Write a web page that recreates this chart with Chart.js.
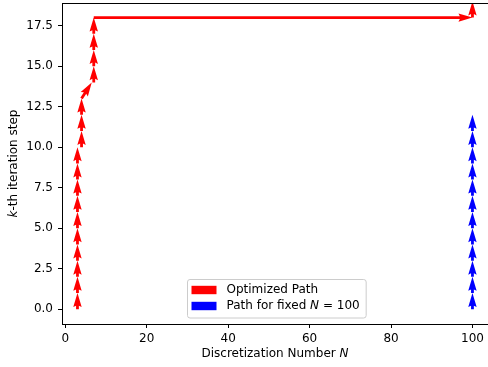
<!DOCTYPE html>
<html>
<head>
<meta charset="utf-8">
<script src="https://cdn.jsdelivr.net/npm/chart.js@4/dist/chart.umd.min.js"></script>
<style>
  html, body { margin: 0; padding: 0; background: #fff; overflow: hidden; }
  #quadro { width: 488px; height: 367px; overflow: hidden; }
</style>
</head>
<body>
<div id="quadro"><canvas id="grafico" width="492" height="367"></canvas></div>
<script>
// caminho otimizado: origem de cada seta (N, k) e o deslocamento (dN, dk)
const caminhoN  = [3, 3, 3, 3, 3, 3, 3, 3, 3, 3, 4, 4, 4, 4, 7, 7, 7, 7, 7, 100];
const caminhoK  = [0, 1, 2, 3, 4, 5, 6, 7, 8, 9, 10, 11, 12, 13, 14, 15, 16, 17, 18, 18];
const caminhoDN = [0, 0, 0, 0, 0, 0, 0, 0, 0, 0, 0, 0, 0, 2.5, 0, 0, 0, 0, 93, 0];
const caminhoDK = [1, 1, 1, 1, 1, 1, 1, 1, 1, 1, 1, 1, 1, 1, 1, 1, 1, 1, 0, 1];

// caminho com N fixo em 100
const fixoN  = [100, 100, 100, 100, 100, 100, 100, 100, 100, 100, 100, 100];
const fixoK  = [0, 1, 2, 3, 4, 5, 6, 7, 8, 9, 10, 11];
const fixoDN = [0, 0, 0, 0, 0, 0, 0, 0, 0, 0, 0, 0];
const fixoDK = [1, 1, 1, 1, 1, 1, 1, 1, 1, 1, 1, 1];

const ticksN = [0, 20, 40, 60, 80, 100];
const ticksK = [0, 2.5, 5, 7.5, 10, 12.5, 15, 17.5];

// rótulos da legenda (partes em itálico marcadas com true)
const legendaCaminho = [["Optimized Path", false]];
const legendaFixo = [["Path for fixed ", false], ["N", true], [" = 100", false]];

const FONTE = '"DejaVu Sans", sans-serif';

function setas(ns, ks, dns, dks) {
    return ns.map((n, i) => ({ x: n, y: ks[i], u: dns[i], v: dks[i] }));
}

function larguraMisto(ctx, partes) {
    let total = 0;
    partes.forEach(([t, it]) => {
        ctx.font = (it ? "italic " : "") + "12px " + FONTE;
        total += ctx.measureText(t).width;
    });
    return total;
}

// escreve um texto com trechos normais e itálicos
function textoMisto(ctx, partes, cx, cy, alinhar) {
    const total = larguraMisto(ctx, partes);
    let x = alinhar === "left" ? cx : cx - total / 2;
    ctx.textBaseline = "middle";
    ctx.textAlign = "left";
    partes.forEach(([t, it]) => {
        ctx.font = (it ? "italic " : "") + "12px " + FONTE;
        ctx.fillText(t, x, cy);
        x += ctx.measureText(t).width;
    });
}

// seta no estilo quiver: haste fina e cabeça com entalhe
function desenhaSeta(ctx, x0, y0, x1, y1) {
    const w = 2.8, hw = 1.5 * w, hl = 5 * w, hal = 4.5 * w;
    const L = Math.hypot(x1 - x0, y1 - y0);
    const s = L < hl ? L / hl : 1;
    ctx.save();
    ctx.translate(x0, y0);
    ctx.rotate(Math.atan2(y1 - y0, x1 - x0));
    ctx.beginPath();
    ctx.moveTo(0, -w / 2 * s);
    ctx.lineTo(L - hal * s, -w / 2 * s);
    ctx.lineTo(L - hl * s, -hw * s);
    ctx.lineTo(L, 0);
    ctx.lineTo(L - hl * s, hw * s);
    ctx.lineTo(L - hal * s, w / 2 * s);
    ctx.lineTo(0, w / 2 * s);
    ctx.closePath();
    ctx.fill();
    ctx.restore();
}

const pluginSetas = {
    id: "setas",
    afterDatasetsDraw(chart) {
        const ctx = chart.ctx, area = chart.chartArea;
        const sx = chart.scales.x, sy = chart.scales.y;
        ctx.save();
        ctx.beginPath();
        ctx.rect(area.left, area.top, area.right - area.left, area.bottom - area.top);
        ctx.clip();
        chart.data.datasets.forEach(ds => {
            ctx.fillStyle = ds.backgroundColor;
            ds.data.forEach(p => {
                desenhaSeta(ctx,
                    sx.getPixelForValue(p.x), sy.getPixelForValue(p.y),
                    sx.getPixelForValue(p.x + p.u), sy.getPixelForValue(p.y + p.v));
            });
        });
        ctx.restore();
        ctx.beginPath();
    },
    afterDraw(chart) {
        const ctx = chart.ctx, area = chart.chartArea;
        ctx.save();
        // borda de cima
        ctx.strokeStyle = "#000";
        ctx.lineWidth = 1;
        ctx.beginPath();
        ctx.moveTo(area.left, area.top + 0.5);
        ctx.lineTo(area.right, area.top + 0.5);
        ctx.stroke();

        // títulos dos eixos (centrados na área visível)
        ctx.fillStyle = "#000";
        textoMisto(ctx, [["Discretization Number ", false], ["N", true]],
            (area.left + 488) / 2, area.bottom + 30);
        ctx.save();
        ctx.translate(14, (area.top + area.bottom) / 2);
        ctx.rotate(-Math.PI / 2);
        textoMisto(ctx, [["k", true], ["-th iteration step", false]], 0, 0);
        ctx.restore();

        // legenda
        const itens = chart.data.datasets.map(ds => [ds.backgroundColor, ds.legenda]);
        const textoMax = Math.max(...itens.map(it => larguraMisto(ctx, it[1])));
        const larg = 4.5 + 25 + 10 + textoMax + 6;
        const alt = 38.5;
        const lx = Math.round((area.left + 488) / 2 - larg / 2) + 1;
        const ly = Math.round(area.bottom - 6.5 - alt);
        ctx.beginPath();
        ctx.roundRect(lx + 0.5, ly + 0.5, larg, alt, 2.5);
        ctx.fillStyle = "rgba(255,255,255,0.8)";
        ctx.fill();
        ctx.strokeStyle = "#cccccc";
        ctx.stroke();
        itens.forEach(([cor, partes], i) => {
            const cy = ly + 11 + i * 16;
            ctx.fillStyle = cor;
            ctx.fillRect(lx + 4.5, cy - 4.2, 25, 8.4);
            ctx.fillStyle = "#000";
            textoMisto(ctx, partes, lx + 4.5 + 25 + 10, cy, "left");
        });
        ctx.restore();
    }
};

const config = {
    type: "scatter",
    data: {
        datasets: [
            {
                label: "Optimized Path",
                legenda: legendaCaminho,
                data: setas(caminhoN, caminhoK, caminhoDN, caminhoDK),
                backgroundColor: "#ff0000",
                pointRadius: 0
            },
            {
                label: "Path for fixed N = 100",
                legenda: legendaFixo,
                data: setas(fixoN, fixoK, fixoDN, fixoDK),
                backgroundColor: "#0000ff",
                pointRadius: 0
            }
        ]
    },
    options: {
        responsive: false,
        animation: false,
        layout: { padding: { top: 3, left: 0, right: 0, bottom: 0 } },
        plugins: {
            legend: { display: false },
            tooltip: { enabled: false }
        },
        scales: {
            x: {
                type: "linear",
                min: -0.8,
                max: 104.8,
                afterBuildTicks: s => { s.ticks = ticksN.map(v => ({ value: v })); },
                afterFit: s => { s.height = 43; s.paddingLeft = 0; s.paddingRight = 0; },
                grid: { drawOnChartArea: false, drawTicks: true, tickLength: 4, tickColor: "#000" },
                border: { display: true, color: "#000", width: 1 },
                ticks: { color: "#000", padding: 4, maxRotation: 0, font: { family: FONTE, size: 12 } }
            },
            y: {
                type: "linear",
                min: -0.91,
                max: 18.9,
                afterBuildTicks: s => { s.ticks = ticksK.map(v => ({ value: v })); },
                afterFit: s => { s.width = 62; s.paddingTop = 0; s.paddingBottom = 0; },
                grid: { drawOnChartArea: false, drawTicks: true, tickLength: 4, tickColor: "#000" },
                border: { display: true, color: "#000", width: 1 },
                ticks: {
                    color: "#000",
                    padding: 5,
                    font: { family: FONTE, size: 12 },
                    callback: v => v.toFixed(1)
                }
            }
        }
    },
    plugins: [pluginSetas]
};

new Chart(document.getElementById("grafico"), config);
</script>
</body>
</html>
